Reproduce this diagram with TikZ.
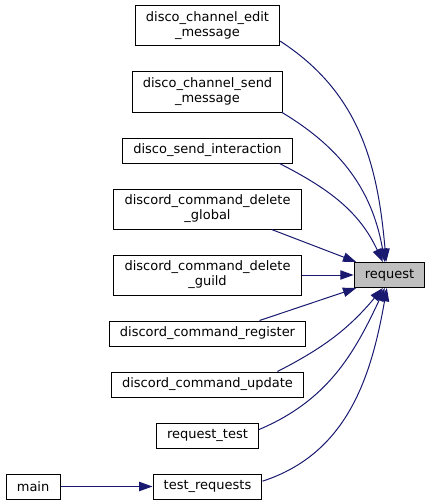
\documentclass[tikz,border=0pt]{standalone}
\usepackage{fontspec}
\setmainfont{DejaVu Sans}
\usepackage{tikz}
\usetikzlibrary{positioning, arrows.meta}
\definecolor{edgeblue}{RGB}{25,25,112}
\definecolor{selgray}{RGB}{191,191,191}
\tikzset{
  fnbox/.style = {rectangle, draw=black, fill=white, line width=0.75pt,
                  minimum height=18.75pt, inner xsep=8pt, inner ysep=3pt,
                  align=center, font=\fontsize{9.75pt}{11.25pt}\selectfont},
  fnboxtwo/.style = {fnbox, minimum height=30pt},
  fnsel/.style = {fnbox, fill=selgray},
  fnarrow/.style = {-{Triangle[length=10pt, width=7pt, fill=edgeblue]},
                    line width=0.75pt, draw=edgeblue}
}
\begin{document}
\begin{tikzpicture}[x=0.75pt, y=0.75pt, node distance=18.75pt and 39pt]
\useasboundingbox (0,0) rectangle (431,-503);
\node[fnboxtwo] (edit) at (207.5,-26) {disco\_channel\_edit\\\_message};
\node[fnboxtwo, below=of edit] (send) {disco\_channel\_send\\\_message};
\node[fnbox, below=of send] (inter) {disco\_send\_interaction};
\node[fnboxtwo, below=of inter] (glob) {discord\_command\_delete\\\_global};
\node[fnboxtwo, below=of glob] (guild) {discord\_command\_delete\\\_guild};
\node[fnbox, below=of guild] (reg) {discord\_command\_register};
\node[fnbox, below=of reg] (upd) {discord\_command\_update};
\node[fnbox, below=of upd] (rtest) {request\_test};
\node[fnbox, below=of rtest] (treq) {test\_requests};
\node[fnsel, right=of guild] (req) {request};
\node[fnbox, left=69pt of treq] (main) {main};

\draw[fnarrow] ([yshift=4pt]edit.south east) to[out=-33, in=95] ([xshift=-2.5pt]req.north);
\draw[fnarrow] ([xshift=-1pt]send.south east) to[out=-31, in=100] ([xshift=-3.5pt]req.north);
\draw[fnarrow] ([xshift=-10pt]inter.south east) to[out=-27, in=115] ([xshift=-5pt]req.north);
\draw[fnarrow] ([xshift=-22.5pt]glob.south east) -- ([xshift=2pt]req.north west);
\draw[fnarrow] (guild) -- (req);
\draw[fnarrow] ([xshift=-35pt]reg.north east) -- ([xshift=2pt]req.south west);
\draw[fnarrow] ([xshift=-20pt]upd.north east) to[out=27, in=-130] ([xshift=-5pt]req.south);
\draw[fnarrow] ([yshift=4.5pt]rtest.east) to[out=23, in=-115] ([xshift=-3.5pt]req.south);
\draw[fnarrow] ([yshift=4pt]treq.east) to[out=18, in=-100] ([xshift=-2pt]req.south);
\draw[fnarrow] (main) -- (treq);
\end{tikzpicture}
\end{document}
